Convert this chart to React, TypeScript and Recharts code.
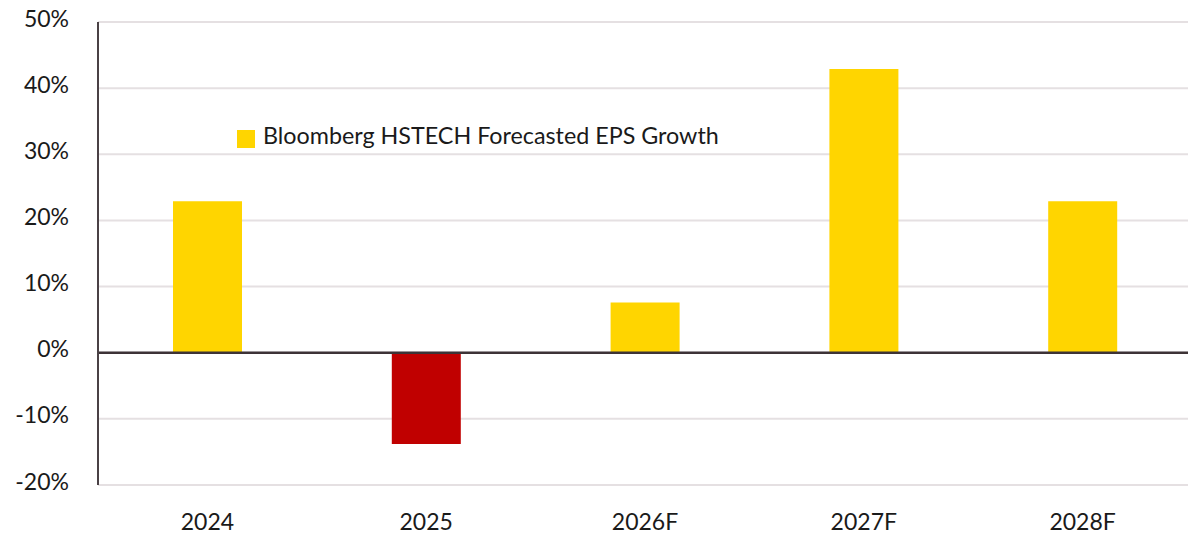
import * as React from 'react';
import {
  BarChart,
  Bar,
  Cell,
  XAxis,
  YAxis,
  CartesianGrid,
  ReferenceLine,
} from 'recharts';

const categories = ['2024', '2025', '2026F', '2027F', '2028F'];
const epsGrowth = [22.9, -13.8, 7.6, 42.9, 22.9];
const yTicks = [-20, -10, 0, 10, 20, 30, 40, 50];

const SERIES_NAME = 'Bloomberg HSTECH Forecasted EPS Growth';
const YELLOW = '#FFD500';
const RED = '#C00000';
const FONT = 'Lato, "Noto Sans", sans-serif';

const chartData = categories.map((year, i) => ({ year, growth: epsGrowth[i] }));

function YTick({ x, y, payload }: any) {
  return (
    <text x={x} y={y} dy={4.5} textAnchor="end" fill="#1a1a1a" fontSize={23} fontFamily={FONT}>
      {`${payload.value}%`}
    </text>
  );
}

function XTick({ x, y, payload }: any) {
  return (
    <text x={x} y={y} dy={45} textAnchor="middle" fill="#1a1a1a" fontSize={23} fontFamily={FONT}>
      {payload.value}
    </text>
  );
}

// legend sits inside the plot, so it is drawn as an overlay and takes no space
function ChartLegend() {
  return (
    <svg width={520} height={32} style={{ position: 'absolute', left: 237, top: 120 }}>
      <rect x={0} y={10} width={18} height={18} fill={YELLOW} />
      <text x={26} y={23.5} fill="#1a1a1a" fontSize={23.3} fontFamily={FONT}>
        {SERIES_NAME}
      </text>
    </svg>
  );
}

export default function App() {
  return (
    <div
      style={{
        margin: '-8px -8px 0 -8px',
        width: 1196,
        height: 536,
        background: '#fff',
        position: 'relative',
        overflow: 'visible',
      }}
    >
      <BarChart
        width={1196}
        height={536}
        data={chartData}
        margin={{ top: 22, right: 4, bottom: 0, left: 0 }}
        style={{ overflow: 'visible' }}
      >
        <CartesianGrid vertical={false} stroke="#e5e0e2" strokeWidth={2} />
        <XAxis
          dataKey="year"
          height={51}
          axisLine={false}
          tickLine={false}
          tick={<XTick />}
          tickSize={0}
          tickMargin={0}
        />
        <YAxis
          width={98}
          domain={[-20, 50]}
          ticks={yTicks}
          interval={0}
          tick={<YTick />}
          tickLine={false}
          tickSize={0}
          tickMargin={29}
          axisLine={{ stroke: '#4a4145', strokeWidth: 2 }}
        />
        <ReferenceLine y={0} stroke="#3d3336" strokeWidth={2.5} />
        <Bar dataKey="growth" name={SERIES_NAME} barSize={69} isAnimationActive={false}>
          {epsGrowth.map((v, i) => (
            <Cell key={categories[i]} fill={v < 0 ? RED : YELLOW} />
          ))}
        </Bar>
      </BarChart>
      <ChartLegend />
    </div>
  );
}
